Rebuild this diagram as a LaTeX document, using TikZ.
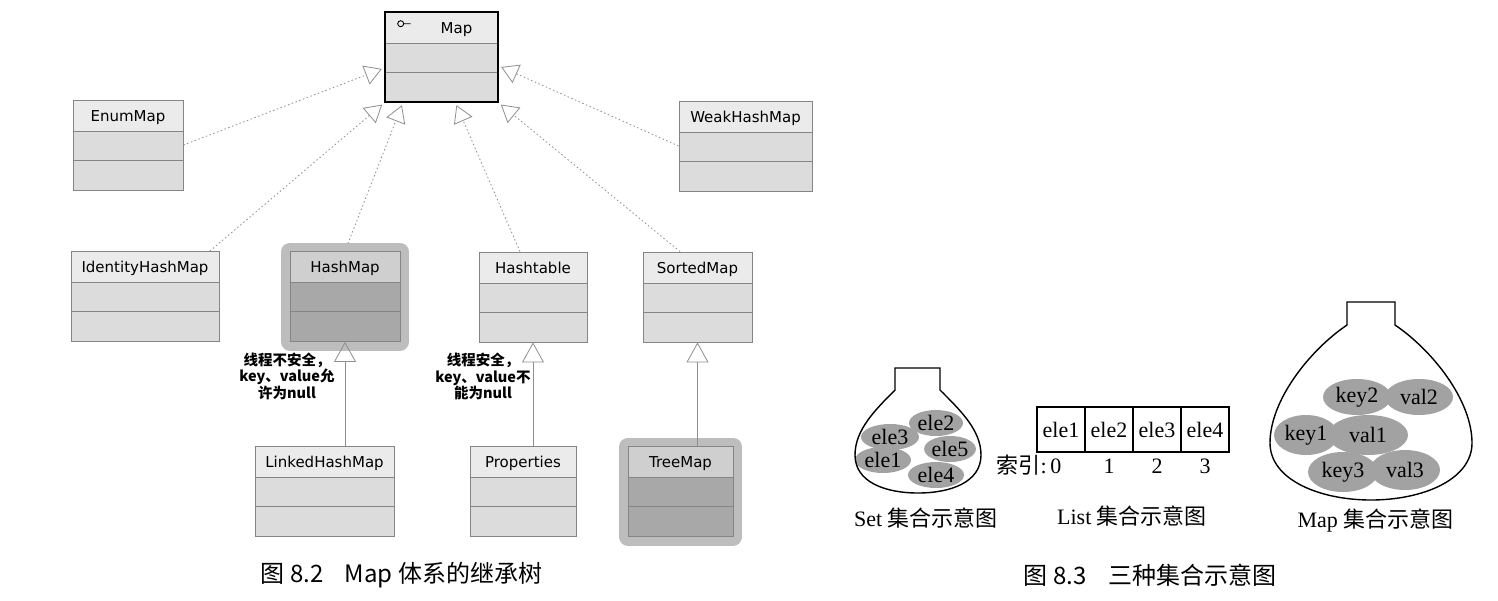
\documentclass[tikz,border=0pt]{standalone}
\usepackage{fontspec}
\setmainfont{Liberation Serif}
\newfontfamily\cjk{Noto Sans CJK SC}
\newfontfamily\umlfont{DejaVu Sans}
\usetikzlibrary{arrows.meta,shapes.geometric,positioning}
\definecolor{boxbody}{HTML}{DCDCDC}
\definecolor{boxline}{HTML}{858585}
\definecolor{hotbody}{HTML}{A8A8A8}
\definecolor{halo}{HTML}{BDBDBD}
\definecolor{arrgray}{HTML}{8E8E8E}
\definecolor{blobgray}{HTML}{A2A2A2}

\begin{document}
\begin{tikzpicture}[x=1pt, y=-1pt,
                umlbox/.style={draw=boxline, fill=boxbody, line width=0.8pt, minimum width=#1,
                    inner sep=0pt, text height=21pt, text depth=69pt,
                    font=\umlfont\fontsize{15}{18}\selectfont,
                    path picture={
                        \fill[white, fill opacity=0.45] (path picture bounding box.north west)
                            rectangle ([yshift=-31pt]path picture bounding box.north east);
                        \draw[boxline, line width=0.8pt] ([yshift=-31pt]path picture bounding box.north west)
                            -- ([yshift=-31pt]path picture bounding box.north east);
                        \draw[boxline, line width=0.8pt] ([yshift=-60pt]path picture bounding box.north west)
                            -- ([yshift=-60pt]path picture bounding box.north east);
                    }},
                hot/.style={fill=hotbody, preaction={draw=halo, line width=18pt, line join=round}},
                realize/.style={draw=arrgray, line width=0.8pt, dash pattern=on 1.5pt off 2.5pt,
                    -{Triangle[open, length=17pt, width=20pt]}, shorten >=2pt},
                inherit/.style={draw=arrgray, line width=0.8pt, -{Triangle[open, length=20pt, width=22pt]}},
                note/.style={font=\cjk\bfseries\fontsize{14.5}{16.5}\selectfont, align=center, inner sep=0pt},
                caption/.style={font=\cjk\fontsize{24}{28}\selectfont, inner sep=0pt},
                serif/.style={font=\fontsize{22}{25}\selectfont},
                blob/.style={ellipse, fill=blobgray, inner sep=0pt, minimum width=#1, minimum height=26pt, serif},
                cell/.style={draw, line width=1.3pt, minimum width=48pt, minimum height=45pt, inner sep=0pt,
                    outer sep=0pt, serif},
                flask/.style={draw, line width=1.4pt}]
                \useasboundingbox (0, 0) rectangle (1498, 600);

                \node(map_i)   at(441.5, 57)  [umlbox=113, draw=black, line width=2.6pt] {\hspace{30pt}Map};
                \draw[line width=0.9pt] ([xshift=17pt, yshift=-13pt]map_i.north west) circle[radius=3pt]
                    ++(3pt, 0) -- ++(7pt, 0);
                \node(enum_m)  at(128, 145)   [umlbox=110] {EnumMap};
                \node(weak_m)  at(745.5, 146) [umlbox=133] {WeakHashMap};
                \node(ident_m) at(145, 296.5) [umlbox=148] {IdentityHashMap};
                \node(hash_m)  at(345, 296.5) [umlbox=110, hot] {HashMap};
                \node(table_m) at(533, 297)   [umlbox=108] {Hashtable};
                \node(sort_m)  at(697.5, 297) [umlbox=109] {SortedMap};
                \node(link_m)  at(324.5, 491.5) [umlbox=139] {LinkedHashMap};
                \node(prop_m)  at(523, 491.5) [umlbox=106] {Properties};
                \node(tree_m)  at(680.5, 491.5) [umlbox=105, hot] {TreeMap};

                \draw[realize] (enum_m.east) -- (map_i.191);
                \draw[realize] (ident_m.35) -- (map_i.south west);
                \draw[realize, shorten <=8pt] (hash_m.north) -- (map_i.230);
                \draw[realize] (table_m.106) -- (map_i.287);
                \draw[realize] (sort_m.111) -- (map_i.south east);
                \draw[realize] (weak_m.west) -- (map_i.351);

                \draw[inherit] (hash_m.south |- link_m.north) -- (hash_m.south)
                    node[note, pos=0.67, left=10pt] {线程不安全，\\key、value允\\许为null};
                \draw[inherit] (table_m.south |- prop_m.north) -- (table_m.south)
                    node[note, pos=0.67, left=2pt] {线程安全，\\key、value不\\能为null};
                \draw[inherit] (sort_m.south |- tree_m.north) -- (sort_m.south);

                \node(cap_a) at(401.5, 575) [caption] {图 8.2\hspace{0.9em}Map 体系的继承树};

                \node(ele_3) at(890, 437) [blob=58pt] {ele3};
                \node(ele_2) at(936, 423) [blob=54pt] {ele2};
                \node(ele_5) at(950, 449) [blob=50pt] {ele5};
                \node(ele_1) at(883, 460) [blob=56pt] {ele1};
                \node(ele_4) at(936, 475) [blob=56pt] {ele4};
                \draw[flask] (895, 368) -- (895, 390) .. controls (875, 410) and (855, 430) .. (855, 455)
                    .. controls (855, 482) and (885, 493) .. (918, 493)
                    .. controls (951, 493) and (981, 482) .. (981, 455)
                    .. controls (981, 430) and (960, 410) .. (940, 390) -- (940, 368) -- cycle;
                \node(set_t) at(926, 518) [serif] {Set {\cjk 集合示意图}};

                \node(list_1) at(1061, 429.5) [cell] {ele1};
                \node(list_2) [cell, right=0pt of list_1] {ele2};
                \node(list_3) [cell, right=0pt of list_2] {ele3};
                \node(list_4) [cell, right=0pt of list_3] {ele4};
                \node(idx_1) [serif, below=3pt of list_2] {1};
                \node(idx_2) [serif, below=3pt of list_3] {2};
                \node(idx_3) [serif, below=3pt of list_4] {3};
                \node(idx_0) at([xshift=4pt]list_1.south |- idx_1.base) [serif, anchor=base east] {{\cjk 索引}:\,0};
                \node(list_t) at(1132, 516) [serif] {List {\cjk 集合示意图}};

                \node(key_2) at(1357, 397) [blob=68pt, minimum height=36pt] {key2};
                \node(val_2) at(1419, 397) [blob=68pt, minimum height=36pt] {val2};
                \node(val_1) at(1368, 435) [blob=80pt, minimum height=40pt] {val1};
                \node(key_1) at(1306, 435) [blob=64pt, minimum height=40pt] {key1};
                \node(val_3) at(1405, 470) [blob=70pt, minimum height=40pt] {val3};
                \node(key_3) at(1343, 472) [blob=70pt, minimum height=40pt] {key3};
                \draw[flask] (1347, 302) -- (1347, 325) .. controls (1310, 350) and (1270, 400) .. (1270, 443)
                    .. controls (1270, 480) and (1320, 500) .. (1371, 500)
                    .. controls (1422, 500) and (1472, 480) .. (1472, 443)
                    .. controls (1472, 400) and (1432, 350) .. (1395, 325) -- (1395, 302) -- cycle;
                \node(map_t) at(1375.5, 520) [serif] {Map {\cjk 集合示意图}};

                \node(cap_b) at(1150, 575) [caption] {图 8.3\hspace{0.9em}三种集合示意图};
            \end{tikzpicture}
\end{document}
